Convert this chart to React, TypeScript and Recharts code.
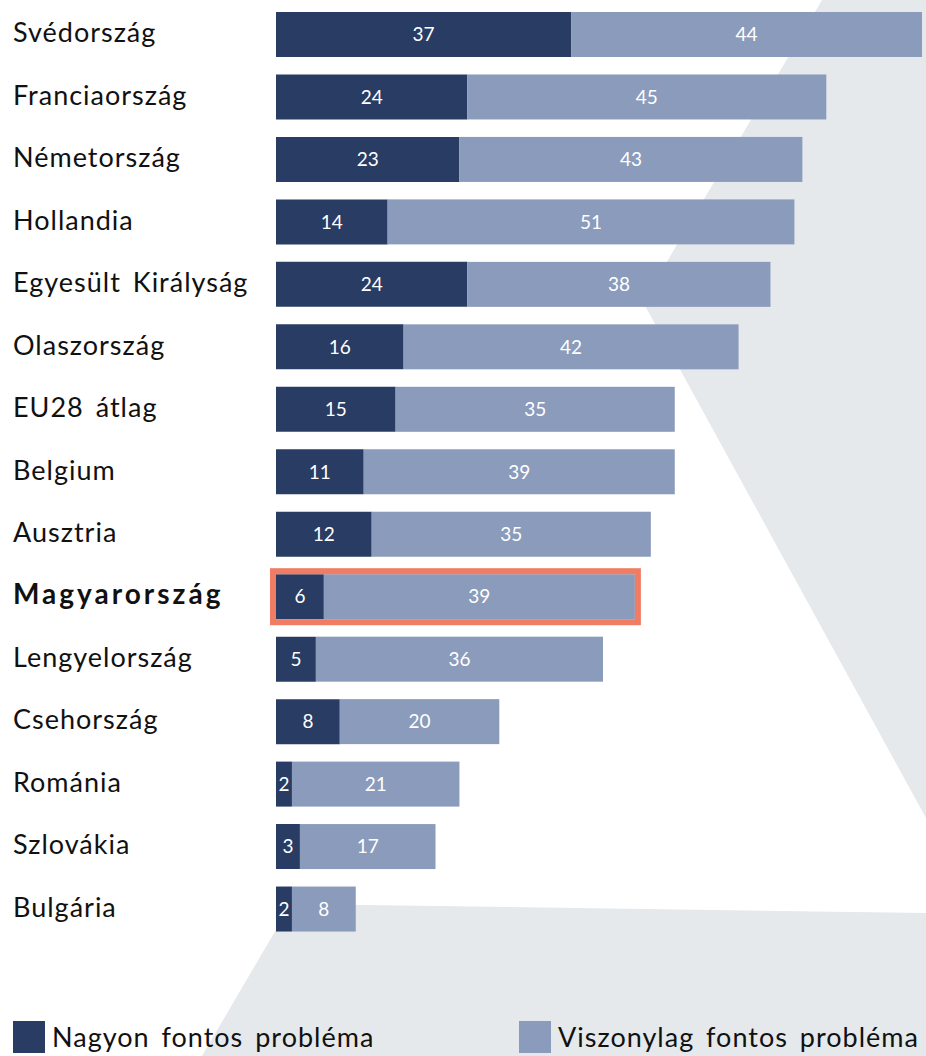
import { BarChart, Bar, XAxis, YAxis, LabelList } from 'recharts';

const countries = [
  'Svédország', 'Franciaország', 'Németország', 'Hollandia', 'Egyesült Királyság',
  'Olaszország', 'EU28 átlag', 'Belgium', 'Ausztria', 'Magyarország',
  'Lengyelország', 'Csehország', 'Románia', 'Szlovákia', 'Bulgária',
];
const veryImportant = [37, 24, 23, 14, 24, 16, 15, 11, 12, 6, 5, 8, 2, 3, 2];
const fairlyImportant = [44, 45, 43, 51, 38, 42, 35, 39, 35, 39, 36, 20, 21, 17, 8];
const seriesNames = ['Nagyon fontos probléma', 'Viszonylag fontos probléma'];
const highlighted = 'Magyarország';

const DARK = '#293c63';
const LIGHT = '#8b9bbb';
const ACCENT = '#ef7c63';
const BG = '#e5e9ec';
const FONT = 'Lato, "Open Sans", sans-serif';

const data = countries.map((country, i) => ({
  country,
  very: veryImportant[i],
  fairly: fairlyImportant[i],
}));

function CountryTick(props: any) {
  const { y, payload } = props;
  const bold = payload.value === highlighted;
  return (
    <text x={13} y={y} dy={8} textAnchor="start" fill="#111" fontSize={bold ? 28 : 27}
      fontFamily={FONT} fontWeight={bold ? 700 : 400}
      style={{ letterSpacing: bold ? 3 : 1, wordSpacing: 4 }}>
      {payload.value}
    </text>
  );
}

// light segment, plus the outline round the whole highlighted bar
function FairlyShape(props: any) {
  const { x, y, width, height, payload, fill } = props;
  const hl = payload && payload.country === highlighted;
  const left = hl ? x - (width * payload.very) / payload.fairly : x;
  return (
    <g>
      <rect x={x} y={y} width={width} height={height} fill={fill} />
      {hl && (
        <rect x={left - 3} y={y - 3} width={x + width - left + 6} height={height + 6}
          fill="none" stroke={ACCENT} strokeWidth={6} />
      )}
    </g>
  );
}

export default function App() {
  return (
    <div style={{ position: 'absolute', left: 0, top: 0, width: 926, height: 1056, background: '#fff', overflow: 'hidden' }}>
      <svg width={926} height={1056} style={{ position: 'absolute', left: 0, top: 0 }}>
        <polygon points="822,0 926,0 926,818 643,302" fill={BG} />
        <polygon points="291,904 926,913 926,1056 202,1056" fill={BG} />
      </svg>
      <div style={{ position: 'absolute', left: 0, top: 0 }}>
        <BarChart width={926} height={1056} data={data} layout="vertical"
          margin={{ top: 3, right: 4, bottom: 116, left: 0 }} barSize={45}>
          <XAxis type="number" domain={[0, 81]} hide />
          <YAxis type="category" dataKey="country" width={276} axisLine={false}
            tickLine={false} tick={<CountryTick />} interval={0} />
          <Bar dataKey="very" stackId="a" fill={DARK} name={seriesNames[0]} isAnimationActive={false}>
            <LabelList dataKey="very" position="center" fill="#fff" fontSize={19} fontFamily={FONT} />
          </Bar>
          <Bar dataKey="fairly" stackId="a" fill={LIGHT} name={seriesNames[1]}
            shape={<FairlyShape />} isAnimationActive={false}>
            <LabelList dataKey="fairly" position="center" fill="#fff" fontSize={19} fontFamily={FONT} />
          </Bar>
        </BarChart>
      </div>
      <div style={{ position: 'absolute', top: 1021, left: 0, width: 926, fontFamily: FONT, fontSize: 27, color: '#111', letterSpacing: 1, wordSpacing: 4 }}>
        {[DARK, LIGHT].map((c, i) => (
          <div key={i} style={{ position: 'absolute', left: i === 0 ? 13 : 519, top: 0, display: 'flex', alignItems: 'center', whiteSpace: 'nowrap' }}>
            <span style={{ width: 32, height: 32, background: c, display: 'inline-block', marginRight: 7 }} />
            <span style={{ lineHeight: '32px' }}>{seriesNames[i]}</span>
          </div>
        ))}
      </div>
    </div>
  );
}
